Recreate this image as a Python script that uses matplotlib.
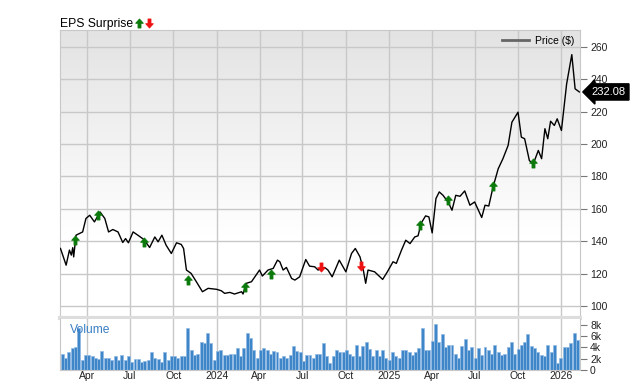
import numpy as np
import pandas as pd
import matplotlib
matplotlib.use('Agg')
import matplotlib.pyplot as plt
import matplotlib.transforms as mtransforms
from matplotlib.colors import LinearSegmentedColormap
from matplotlib.lines import Line2D
from matplotlib.path import Path

plt.rcParams['font.family'] = ['Liberation Sans', 'DejaVu Sans']

# prix
price_dates = ['2023-02-04', '2023-02-16', '2023-02-23', '2023-02-27', '2023-03-02', '2023-03-04',
               '2023-03-09', '2023-03-23', '2023-03-30', '2023-04-07', '2023-04-17', '2023-04-29',
               '2023-05-09', '2023-05-17', '2023-05-26', '2023-06-06', '2023-06-16', '2023-06-22',
               '2023-06-28', '2023-07-08', '2023-07-18', '2023-07-31', '2023-08-12', '2023-08-23',
               '2023-08-30', '2023-09-07', '2023-09-16', '2023-09-27', '2023-10-08', '2023-10-18',
               '2023-10-23', '2023-10-29', '2023-11-08', '2023-11-19', '2023-12-02', '2023-12-14',
               '2024-01-01', '2024-01-11', '2024-01-18', '2024-01-29', '2024-02-08', '2024-02-23',
               '2024-02-26', '2024-03-04', '2024-03-15', '2024-04-01', '2024-04-07', '2024-04-19',
               '2024-04-30', '2024-05-09', '2024-05-14', '2024-05-21', '2024-05-28', '2024-06-08',
               '2024-06-15', '2024-06-25', '2024-07-08', '2024-07-16', '2024-07-27', '2024-08-03',
               '2024-08-17', '2024-08-24', '2024-09-02', '2024-09-17', '2024-10-01', '2024-10-13',
               '2024-10-21', '2024-10-31', '2024-11-07', '2024-11-12', '2024-11-17', '2024-12-01',
               '2024-12-18', '2024-12-28', '2025-01-09', '2025-01-16', '2025-01-27', '2025-02-05',
               '2025-02-14', '2025-02-24', '2025-03-03', '2025-03-10', '2025-03-19', '2025-03-26',
               '2025-04-02', '2025-04-10', '2025-04-17', '2025-04-25', '2025-05-06', '2025-05-14',
               '2025-05-22', '2025-05-31', '2025-06-10', '2025-06-21', '2025-07-01', '2025-07-16',
               '2025-07-23', '2025-07-31', '2025-08-09', '2025-08-20', '2025-08-30', '2025-09-10',
               '2025-09-18', '2025-10-01', '2025-10-08', '2025-10-15', '2025-10-25', '2025-11-02',
               '2025-11-13', '2025-11-20', '2025-11-27', '2025-12-03', '2025-12-09', '2025-12-17',
               '2025-12-23', '2026-01-01', '2026-01-12', '2026-01-23', '2026-01-30', '2026-02-08']
price_vals = [135.5, 125.2, 134.5, 131.4, 136.0, 130.3,
              143.7, 145.7, 154.0, 156.0, 151.9, 158.0,
              154.0, 145.7, 147.2, 145.7, 139.2, 141.6,
              139.0, 145.7, 143.7, 141.0, 136.1, 142.6,
              139.6, 143.7, 137.5, 132.4, 139.0, 138.0,
              135.5, 122.2, 120.1, 115.0, 108.8, 110.9,
              110.3, 109.4, 107.8, 108.4, 107.4, 108.8,
              107.4, 114.0, 115.0, 122.2, 118.5, 122.2,
              123.2, 128.3, 127.3, 122.2, 123.8, 117.0,
              116.0, 118.0, 128.7, 124.6, 124.2, 122.2,
              123.8, 122.2, 118.0, 128.3, 121.1, 132.4,
              135.5, 130.3, 122.2, 114.0, 122.2, 121.1,
              116.4, 121.1, 127.3, 126.3, 134.5, 140.6,
              138.5, 142.6, 143.3, 151.3, 155.6, 155.0,
              145.1, 166.3, 170.4, 168.3, 164.0, 159.1,
              168.3, 167.7, 171.0, 162.2, 164.2, 154.6,
              162.2, 161.7, 173.4, 184.7, 190.9, 199.1,
              213.4, 219.6, 204.2, 203.2, 189.8, 187.4,
              196.0, 190.9, 209.4, 203.2, 214.0, 211.4,
              215.5, 208.3, 237.0, 255.1, 234.0, 232.08]
last_price = 232.08

# surprises BPA
up_dates = ['2023-03-07', '2023-04-24', '2023-07-31', '2023-11-01', '2024-03-01', '2024-04-26',
            '2025-03-07', '2025-05-06', '2025-08-09', '2025-11-02']
up_vals = [140.6, 156.0, 139.6, 116.0, 111.5, 119.7, 149.8, 165.5, 173.8, 188.4]
down_dates = ['2024-08-09', '2024-11-02']
down_vals = [124.2, 124.8]

# volume hebdo (milliers)
vol_start = '2023-02-08'
volume_k = [2.8, 2.1, 3.1, 3.8, 4.1, 7.4, 1.8, 2.6, 2.6, 2.4,
            2.1, 1.9, 3.4, 2.1, 2.2, 1.8, 2.5, 1.8, 2.6, 1.8,
            2.4, 1.5, 1.9, 1.9, 1.5, 1.6, 1.8, 3.1, 2.1, 1.9,
            1.5, 3.2, 1.8, 2.4, 2.5, 2.2, 2.5, 2.5, 7.5, 3.6,
            2.6, 2.9, 5.0, 4.7, 6.5, 4.7, 1.8, 3.3, 3.5, 2.6,
            2.6, 2.9, 2.8, 3.8, 2.4, 3.8, 6.5, 5.6, 3.6, 2.1,
            3.5, 3.8, 3.6, 2.8, 3.4, 3.1, 2.2, 2.5, 2.2, 2.6,
            4.2, 3.4, 3.1, 1.6, 2.6, 2.6, 2.2, 2.8,
            2.8, 4.7, 2.4, 1.3, 2.4, 3.5, 3.1, 3.2, 3.6, 2.9,
            2.5, 4.4, 2.4, 4.2, 4.9, 3.7, 2.5, 3.5, 2.5, 3.5,
            2.1, 1.8, 3.2, 2.5, 2.2, 3.5, 3.6, 3.1, 2.6, 3.2,
            3.8, 7.4, 3.6, 3.6, 5.1, 8.2, 5.0, 6.3, 4.1, 4.4,
            4.5, 2.9, 2.2, 4.2, 5.4, 3.6, 4.1, 2.2, 3.8, 2.6,
            4.1, 3.5, 2.8, 4.4, 3.1, 2.6, 2.9, 4.1, 4.9, 2.9,
            3.7, 4.4, 4.9, 6.4, 4.3, 3.8, 3.2, 2.6, 2.5, 4.4,
            3.2, 4.4, 1.3, 2.1, 4.1, 4.1, 4.7, 6.6, 5.3]

tick_dates = ['2023-04-01', '2023-07-01', '2023-10-01', '2024-01-01', '2024-04-01', '2024-07-01',
              '2024-10-01', '2025-01-01', '2025-04-01', '2025-07-01', '2025-10-01', '2026-01-01']
tick_labels = ['Apr', 'Jul', 'Oct', '2024', 'Apr', 'Jul', 'Oct', '2025', 'Apr', 'Jul', 'Oct', '2026']
price_ticks = [100, 120, 140, 160, 180, 200, 220, 240, 260]
vol_ticks = [0, 2, 4, 6, 8]
vol_labels = ['0', '2k', '4k', '6k', '8k']

pdates = pd.to_datetime(price_dates)
vdates = pd.date_range(vol_start, periods=len(volume_k), freq='7D')
tdates = pd.to_datetime(tick_dates)

grid_c = '#c8c8c8'
fs = 7.5
green = '#0b7a0b'
red = '#ee1111'

fig = plt.figure(figsize=(6.4, 3.82), dpi=100)
ax = fig.add_axes([60 / 640, 1 - 318 / 382, 520.3 / 640, 288 / 382])
axv = fig.add_axes([60 / 640, 1 - 370 / 382, 520.3 / 640, 51 / 382], sharex=ax)

# fond dégradé
cmap = LinearSegmentedColormap.from_list('bg', ['#e3e3e3', '#ffffff'])
grad = np.clip(np.linspace(0, 1.4, 256), 0, 1).reshape(-1, 1)
ax.imshow(grad, extent=[0, 1, 0, 1], transform=ax.transAxes, aspect='auto',
          cmap=cmap, zorder=0, interpolation='bilinear')

ax.plot(pdates, price_vals, color='black', lw=1, zorder=3)

# flèches
up_arrow = Path([(0, 1), (0.85, 0.05), (0.33, 0.05), (0.33, -1), (-0.33, -1), (-0.33, 0.05), (-0.85, 0.05), (0, 1)],
                [Path.MOVETO] + [Path.LINETO] * 6 + [Path.CLOSEPOLY])
down_arrow = Path([(x, -y) for x, y in up_arrow.vertices], up_arrow.codes)
ax.plot(pd.to_datetime(up_dates), up_vals, ls='none', marker=up_arrow, ms=6.5,
        color=green, mec=green, mew=0.6, zorder=4)
ax.plot(pd.to_datetime(down_dates), down_vals, ls='none', marker=down_arrow, ms=6.5,
        color=red, mec=red, mew=0.6, zorder=4)

ax.set_ylim(92.6, 270.3)
ax.set_xlim(pd.Timestamp('2023-02-03'), pd.Timestamp('2026-02-10'))
ax.set_yticks(price_ticks)
ax.yaxis.tick_right()
ax.set_xticks(tdates)
ax.grid(True, color=grid_c, lw=1)
ax.set_axisbelow(True)
ax.tick_params(axis='x', length=0, labelbottom=False)
ax.tick_params(axis='y', length=5, color='#777777', labelsize=fs, pad=2, labelcolor='#222222')
for s in ['left', 'top', 'right']:
    ax.spines[s].set_color(grid_c)
ax.spines['bottom'].set_color('#dddddd')
ax.spines['bottom'].set_linewidth(3)

# légende
leg = ax.legend([Line2D([], [], color='#666666', lw=2)], ['Price ($)'], loc='upper right',
                frameon=False, fontsize=fs, handlelength=2.6, borderaxespad=0.15, handletextpad=0.6)

# étiquette du dernier prix
trans = mtransforms.blended_transform_factory(ax.transAxes, ax.transData)
ax.text(1.022, last_price, '%.2f' % last_price, transform=trans, color='white', fontsize=8,
        va='center', ha='left', zorder=5,
        bbox=dict(boxstyle='larrow,pad=0.28', fc='black', ec='black'), clip_on=False)

# titre
ax.text(0, 1.011, 'EPS Surprise', transform=ax.transAxes, fontsize=8.7, ha='left', va='baseline')
ax.plot([0.1515], [1.026], transform=ax.transAxes, marker=up_arrow, ms=6.5, color=green,
        mec=green, mew=0.6, clip_on=False)
ax.plot([0.1705], [1.026], transform=ax.transAxes, marker=down_arrow, ms=6.5, color=red,
        mec=red, mew=0.6, clip_on=False)

# volume
axv.bar(vdates, volume_k, width=6.3, color='#3f86c9', edgecolor='#8fb9e3', lw=0.5, zorder=2)
axv.set_ylim(0, 9.0)
axv.set_yticks(vol_ticks)
axv.set_yticklabels(vol_labels)
axv.yaxis.tick_right()
axv.set_xticks(tdates)
axv.set_xticklabels(tick_labels)
axv.grid(True, axis='x', color=grid_c, lw=1)
axv.set_axisbelow(True)
axv.tick_params(axis='x', length=0, labelsize=fs, pad=1, labelcolor='#222222')
axv.tick_params(axis='y', length=5, color='#777777', labelsize=fs, pad=2, labelcolor='#222222')
for s in ['left', 'right', 'bottom']:
    axv.spines[s].set_color(grid_c)
axv.spines['top'].set_visible(False)
axv.text(0.019, 0.9, 'Volume', transform=axv.transAxes, color='#3a7fc2', fontsize=8.7,
         ha='left', va='top', zorder=3)
axv.set_xlim(pd.Timestamp('2023-02-03'), pd.Timestamp('2026-02-10'))

fig.savefig('out.png', dpi=100)
